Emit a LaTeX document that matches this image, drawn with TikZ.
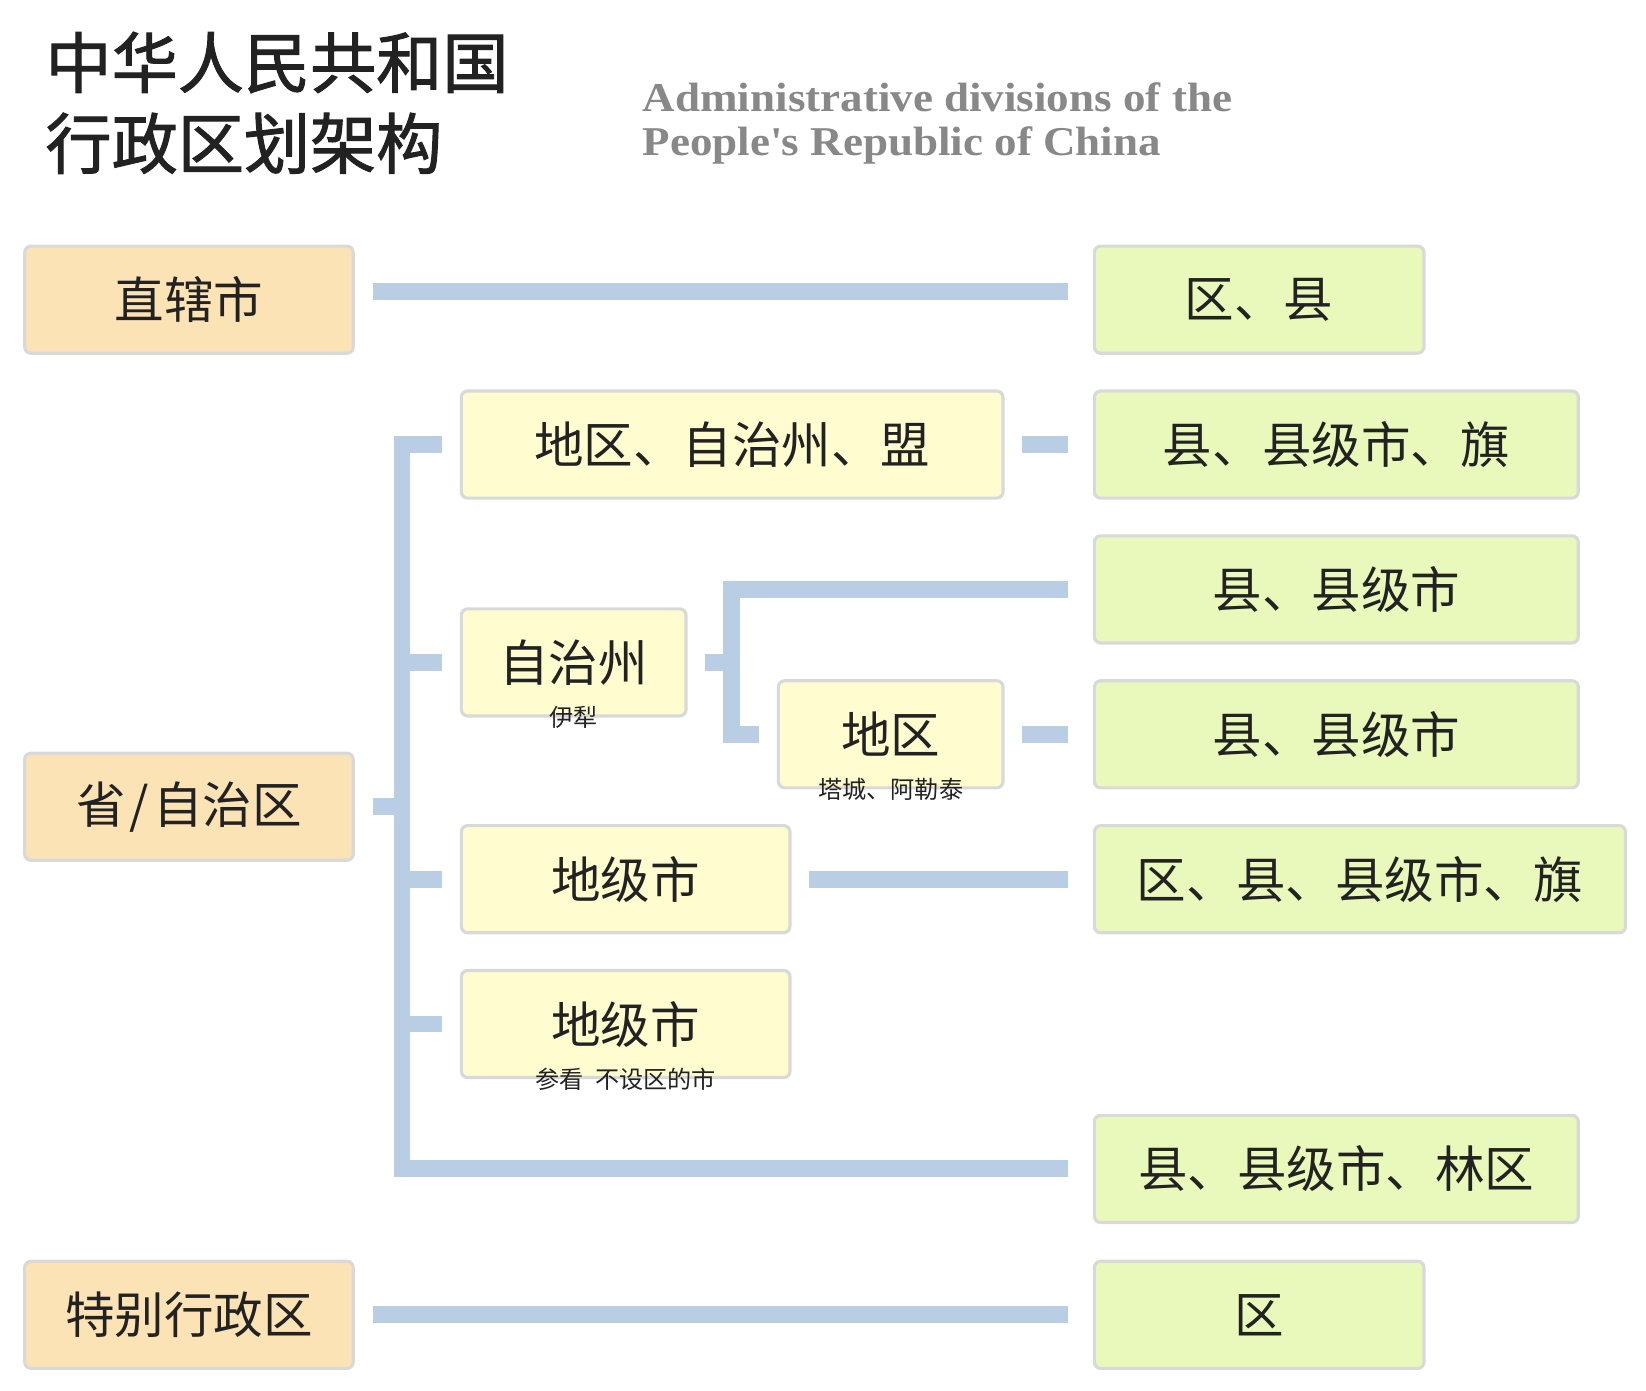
\documentclass[tikz,border=0pt]{standalone}
\usepackage{fontspec}
\setmainfont{Noto Sans CJK SC}
\newfontfamily\titlefont{Noto Sans CJK SC}[FakeBold=1.5]
\newfontfamily\enfont{Liberation Serif}[FakeStretch=1.1]
\definecolor{orangefill}{HTML}{FCE3B6}
\definecolor{yellowfill}{HTML}{FFFDD0}
\definecolor{greenfill}{HTML}{E8F9BB}
\definecolor{boxborder}{HTML}{D9D9D9}
\definecolor{linkblue}{HTML}{B9CDE5}
\definecolor{darktext}{HTML}{222222}
\definecolor{engray}{HTML}{888888}
\begin{document}
\begin{tikzpicture}[x=0.5pt,y=-0.5pt,
  box/.style={draw=boxborder, line width=1.5pt, rounded corners=3pt, inner sep=0pt,
    minimum height=51pt, text=darktext, font=\fontsize{23.6}{23.6}\selectfont},
  topbox/.style={box, fill=orangefill, minimum width=156.5pt},
  midbox/.style={box, fill=yellowfill},
  endbox/.style={box, fill=greenfill},
  sublabel/.style={inner sep=0pt, text=darktext, font=\fontsize{11.5}{11.5}\selectfont},
  link/.style={draw=linkblue, line width=8pt, line cap=butt, line join=miter},
  gapl/.style={shorten <=8.5pt},
  gapr/.style={shorten >=12pt}
]
\useasboundingbox (0,0) rectangle (1568,1325);

% title
\node[anchor=west, align=left, inner sep=0pt, text=darktext,
  font=\titlefont\fontsize{31.5}{38.5}\selectfont] (title) at (43,98)
  {中华人民共和国\\行政区划架构};
\node[anchor=west, align=left, inner sep=0pt, text=engray,
  font=\enfont\bfseries\fontsize{19.5}{21}\selectfont] (subtitle) at (612,118)
  {Administrative divisions of the\\People\textquotesingle s Republic of China};

% left column
\node[topbox] (zx) at (180,285.5) {直辖市};
\node[topbox] (sheng) at (180,768.5) {省\kern0.08em/\kern0.08em 自治区};
\node[topbox] (tb) at (180,1252.5) {特别行政区};

% middle column
\node[midbox, minimum width=258pt] (dq) at (697.5,423.5) {地区、自治州、盟};
\node[midbox, minimum width=107pt] (zzz) at (546.5,631) {自治州};
\node[sublabel] (yili) at (zzz.south) {伊犁};
\node[midbox, minimum width=107pt] (diqu) at (848.5,699.5) {地区};
\node[sublabel] (tc) at (diqu.south) {塔城、阿勒泰};
\node[midbox, minimum width=156.5pt] (djs1) at (596,837.5) {地级市};
\node[midbox, minimum width=156.5pt] (djs2) at (596,975.5) {地级市};
\node[sublabel] (ck) at (djs2.south) {参看 \hspace{0.25em}不设区的市};

% right column
\node[endbox, minimum width=157pt] (r1) at (1199.5,285.5) {区、县};
\node[endbox, minimum width=230.5pt] (r2) at (1273,423.5) {县、县级市、旗};
\node[endbox, minimum width=230.5pt] (r3) at (1273,561.5) {县、县级市};
\node[endbox, minimum width=230.5pt] (r4) at (1273,699.5) {县、县级市};
\node[endbox, minimum width=253pt] (r5) at (1295.5,837.5) {区、县、县级市、旗};
\node[endbox, minimum width=230.5pt] (r6) at (1273,1113.5) {县、县级市、林区};
\node[endbox, minimum width=157pt] (r7) at (1199.5,1252.5) {区};

% connectors
\coordinate (bar) at (383,1113.5);
\coordinate (bar2) at (697,0);

\draw[link, gapl, gapr] ([yshift=4pt]zx.east) -- ([yshift=4pt]r1.west);
\draw[link, gapl, gapr] (tb.east) -- (r7.west);

\draw[link] ([xshift=-8.5pt]dq.west) -- (bar |- dq.west) -- (bar) -- ([xshift=-12pt]r6.west);
\draw[link, gapl] (sheng.east) -- (bar |- sheng.east);
\draw[link] (bar |- zzz.west) -- ([xshift=-8.5pt]zzz.west);
\draw[link] (bar |- djs1.west) -- ([xshift=-8.5pt]djs1.west);
\draw[link] (bar |- djs2.west) -- ([xshift=-8.5pt]djs2.west);

\draw[link, gapl, gapr] (dq.east) -- (r2.west);
\draw[link] ([xshift=-12pt]r3.west) -- (bar2 |- r3.west) -- (bar2 |- diqu.west) -- ([xshift=-8.5pt]diqu.west);
\draw[link, gapl] (zzz.east) -- (bar2 |- zzz.east);
\draw[link, gapl, gapr] (diqu.east) -- (r4.west);
\draw[link, gapl, gapr] (djs1.east) -- (r5.west);
\end{tikzpicture}
\end{document}
